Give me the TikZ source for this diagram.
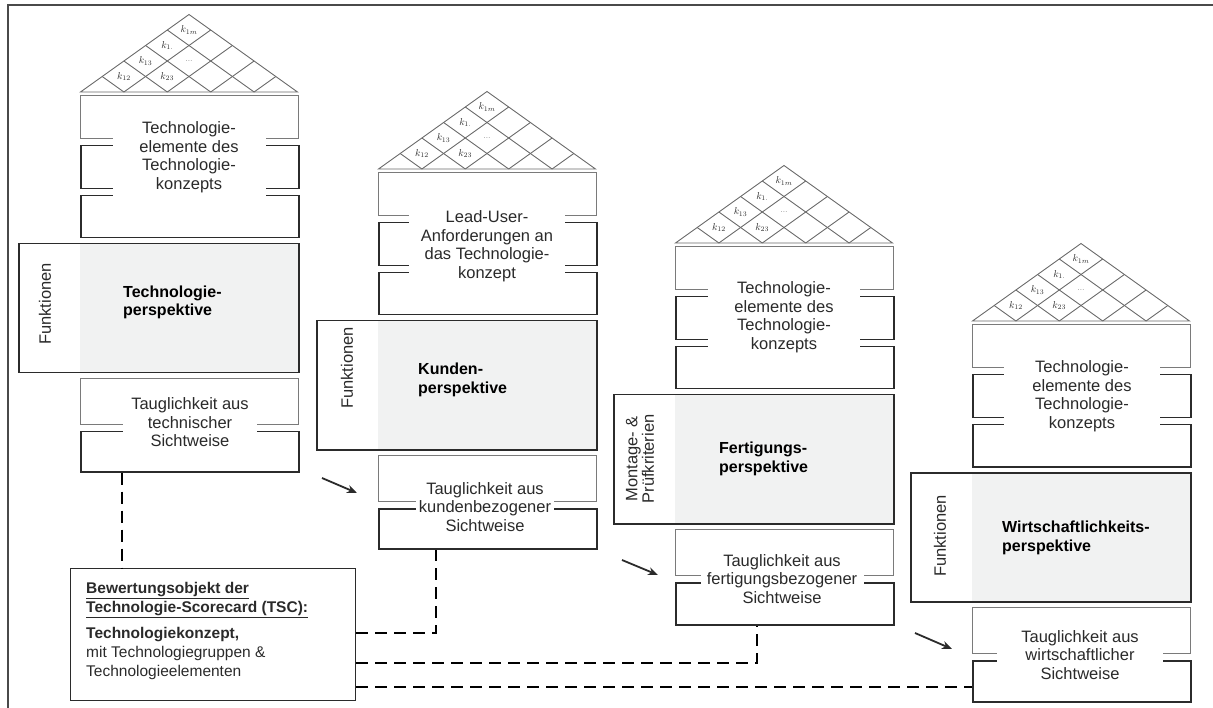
\documentclass[tikz,border=0pt]{standalone}
\usepackage{fontspec}
\setmainfont{Liberation Sans}
\usetikzlibrary{arrows.meta,calc}

\definecolor{roofline}{HTML}{6A6A6A}
\definecolor{lightline}{HTML}{7A7A7A}
\definecolor{darkline}{HTML}{2B2B2B}
\definecolor{panelfill}{HTML}{F1F2F2}
\definecolor{textgray}{HTML}{2A2A2A}
\definecolor{framegray}{HTML}{4A4A4A}

% half diagonals of one roof diamond
\newcommand{\roofa}{21.7}
\newcommand{\roofb}{15.5}

% house-of-quality roof: #1 = name prefix, #2 = apex x, #3 = apex y
\newcommand{\hqroof}[3]{%
  \begin{scope}[shift={(#2,#3)}]
    \draw[roofline, line width=0.9pt, line join=miter]
      (-5*\roofa,5*\roofb) -- (0,0) -- (5*\roofa,5*\roofb) -- cycle;
    \foreach \c in {2,4,6,8} {
      \draw[roofline, line width=0.9pt] ({(\c-5)*\roofa},5*\roofb) -- ({\c*\roofa/2},{\c*\roofb/2});
      \draw[roofline, line width=0.9pt] ({(5-\c)*\roofa},5*\roofb) -- ({-\c*\roofa/2},{\c*\roofb/2});
    }
    \node[rooflabel] (#1-k1m) at (0,\roofb) {$k_{1m}$};
    \node[rooflabel] (#1-k1d) at (-\roofa,2*\roofb) {$k_{1.}$};
    \node[rooflabel] (#1-k13) at (-2*\roofa,3*\roofb) {$k_{13}$};
    \node[rooflabel] (#1-dots) at (0,3*\roofb) {$\scriptstyle\ldots$};
    \node[rooflabel] (#1-k12) at (-3*\roofa,4*\roofb) {$k_{12}$};
    \node[rooflabel] (#1-k23) at (-\roofa,4*\roofb) {$k_{23}$};
  \end{scope}}

\tikzset{
  rooflabel/.style={font=\fontsize{10}{10}\selectfont, inner sep=0pt, text=textgray},
  drawerlight/.style={draw=lightline, line width=1pt, anchor=north west,
    minimum width=218pt, inner sep=0pt},
  drawerdark/.style={draw=darkline, line width=1.5pt, anchor=north west,
    minimum width=218pt, inner sep=0pt},
  bodytext/.style={fill=white, font=\fontsize{16.5}{18.5}\selectfont, align=center,
    inner xsep=0pt, inner ysep=4pt, text=textgray},
  panelbox/.style={draw=darkline, line width=1.5pt, anchor=north west,
    minimum width=280pt, minimum height=129pt, inner sep=0pt},
  sidelabel/.style={rotate=90, font=\fontsize{16.5}{14}\selectfont, align=center,
    text=textgray, inner sep=0pt},
  perstext/.style={anchor=west, align=left, inner sep=0pt,
    font=\bfseries\fontsize{16}{18.5}\selectfont, text=black},
  conn/.style={line width=2.8pt, dash pattern=on 12pt off 7pt, black},
  flow/.style={line width=1.8pt, darkline, -{Stealth[length=10pt,width=8pt]}},
}

\begin{document}
\begin{tikzpicture}[x=1pt,y=-1pt]
\useasboundingbox (0,0) rectangle (1213,708);

% outer frame (top and left edges)
\draw[framegray, line width=1.5pt] (8,708) -- (8,5) -- (1213,5);

% ---------------- Technologieperspektive ----------------
\hqroof{r1}{189}{14.5}
\node[drawerlight, minimum height=43pt] (h1a) at (80,95) {};
\node[drawerdark,  minimum height=43pt] (h1b) at (80,145) {};
\node[drawerdark,  minimum height=42pt] (h1c) at (80,195) {};
\node[bodytext, minimum width=153pt] (h1t) at (189,157)
  {Technologie-\\elemente des\\Technologie-\\konzepts};
\fill[panelfill] (80,243) rectangle (298,372);
\node[panelbox] (p1) at (18,243) {};
\node[sidelabel] (p1s) at (45,304) {Funktionen};
\node[perstext] (p1t) at (123,302.5) {Technologie-\\perspektive};
\node[drawerlight, minimum height=46pt] (t1a) at (80,378) {};
\node[drawerdark,  minimum height=40pt] (t1b) at (80,431) {};
\node[bodytext, minimum width=134pt] (t1t) at (190,422.5)
  {Tauglichkeit aus\\technischer\\Sichtweise};

% ---------------- Kundenperspektive ----------------
\hqroof{r2}{487}{91.5}
\node[drawerlight, minimum height=43pt] (h2a) at (378,172) {};
\node[drawerdark,  minimum height=43pt] (h2b) at (378,222) {};
\node[drawerdark,  minimum height=42pt] (h2c) at (378,272) {};
\node[bodytext, minimum width=156pt] (h2t) at (487,246)
  {Lead-User-\\Anforderungen an\\das Technologie-\\konzept};
\fill[panelfill] (378,320) rectangle (596,449);
\node[panelbox] (p2) at (316,320) {};
\node[sidelabel] (p2s) at (347,368) {Funktionen};
\node[perstext] (p2t) at (418,380) {Kunden-\\perspektive};
\node[drawerlight, minimum height=46pt] (t2a) at (378,455) {};
\node[drawerdark,  minimum height=40pt] (t2b) at (378,508) {};
\node[bodytext, minimum width=138pt] (t2t) at (485,507)
  {Tauglichkeit aus\\kundenbezogener\\Sichtweise};

% ---------------- Fertigungsperspektive ----------------
\hqroof{r3}{784}{165.5}
\node[drawerlight, minimum height=43pt] (h3a) at (675,246) {};
\node[drawerdark,  minimum height=43pt] (h3b) at (675,296) {};
\node[drawerdark,  minimum height=42pt] (h3c) at (675,346) {};
\node[bodytext, minimum width=152pt] (h3t) at (784,317)
  {Technologie-\\elemente des\\Technologie-\\konzepts};
\fill[panelfill] (675,394) rectangle (893,523);
\node[panelbox] (p3) at (613,394) {};
\node[sidelabel] (p3s) at (640,459) {Montage- \&\\Prüfkriterien};
\node[perstext] (p3t) at (719,459) {Fertigungs-\\perspektive};
\node[drawerlight, minimum height=46pt] (t3a) at (675,529) {};
\node[drawerdark,  minimum height=42pt] (t3b) at (675,582) {};
\node[bodytext, minimum width=163pt] (t3t) at (782,579)
  {Tauglichkeit aus\\fertigungsbezogener\\Sichtweise};

% ---------------- Wirtschaftlichkeitsperspektive ----------------
\hqroof{r4}{1081}{243.5}
\node[drawerlight, minimum height=43pt] (h4a) at (972,324) {};
\node[drawerdark,  minimum height=43pt] (h4b) at (972,374) {};
\node[drawerdark,  minimum height=42pt] (h4c) at (972,424) {};
\node[bodytext, minimum width=156pt] (h4t) at (1082,396)
  {Technologie-\\elemente des\\Technologie-\\konzepts};
\fill[panelfill] (972,472) rectangle (1190,601);
\node[panelbox] (p4) at (910,472) {};
\node[sidelabel] (p4s) at (940,536) {Funktionen};
\node[perstext] (p4t) at (1002,538) {Wirtschaftlichkeits-\\perspektive};
\node[drawerlight, minimum height=46pt] (t4a) at (972,607) {};
\node[drawerdark,  minimum height=41pt] (t4b) at (972,660) {};
\node[bodytext, minimum width=166pt] (t4t) at (1080,655)
  {Tauglichkeit aus\\wirtschaftlicher\\Sichtweise};

% ---------------- object of evaluation ----------------
\node[draw=darkline, line width=1.2pt, anchor=north west, minimum width=285pt,
  minimum height=132pt, inner sep=0pt] (bew) at (70,568) {};
\node[anchor=north west, align=left, inner sep=0pt, text=textgray,
  font=\fontsize{15.5}{19}\selectfont] (bewt) at (86,582)
  {\textbf{\underline{Bewertungsobjekt der}}\\
   \textbf{\underline{Technologie-Scorecard (TSC):}}\\[7pt]
   \textbf{Technologiekonzept,}\\
   mit Technologiegruppen \&\\
   Technologieelementen};

% dashed links from the evaluation object to the suitability boxes
\coordinate (c1) at (122,0);
\coordinate (c2) at (436,633);
\coordinate (c3) at (757,663);
\coordinate (c4) at (0,687);
\draw[conn] (c1 |- t1b.south) -- (c1 |- bew.north);
\draw[conn] (bew.east |- c2) -| (c2 |- t2b.south);
\draw[conn] (bew.east |- c3) -| (c3 |- t3b.south);
\draw[conn] (bew.east |- c4) -- (t4b.west |- c4);

% flow arrows between the perspectives
\coordinate (a1s) at (322,478);  \coordinate (a1e) at (357,493);
\coordinate (a2s) at (622,560);  \coordinate (a2e) at (658,575);
\coordinate (a3s) at (915,633);  \coordinate (a3e) at (952,649);
\draw[flow] (a1s) -- (a1e);
\draw[flow] (a2s) -- (a2e);
\draw[flow] (a3s) -- (a3e);
\end{tikzpicture}
\end{document}
